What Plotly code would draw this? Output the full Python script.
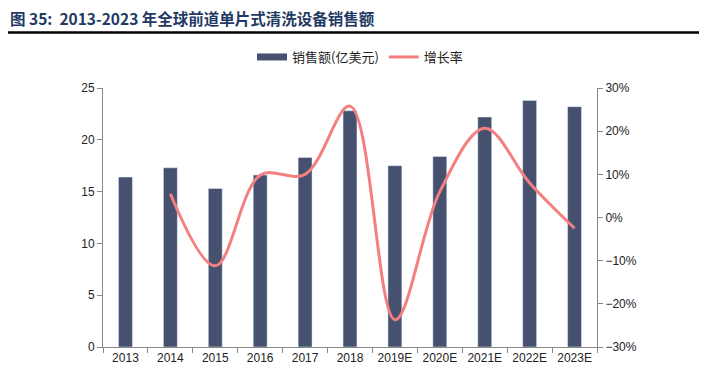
import plotly.graph_objects as go

years = ["2013", "2014", "2015", "2016", "2017", "2018", "2019E", "2020E", "2021E", "2022E", "2023E"]
sales = [16.4, 17.3, 15.3, 16.6, 18.3, 22.8, 17.5, 18.4, 22.2, 23.8, 23.2]
growth_years = years[1:]
growth = [0.055, -0.112, 0.098, 0.100, 0.258, -0.237, 0.06, 0.207, 0.08, -0.025]

OFF = 8  # page body margin
W, H = 707 - OFF, 371 - OFF
L, T = 103 - OFF, 88 - OFF
R, B = W - (597 - OFF), H - (347 - OFF)
pw, ph = W - L - R, H - T - B
bar_color = "#465170"

fig = go.Figure()
fig.add_trace(go.Bar(x=years, y=sales, name="销售额(亿美元)", marker_color=bar_color,
                     width=0.31, yaxis="y", showlegend=False))
fig.add_trace(go.Scatter(x=[None], y=[None], name="销售额(亿美元)", mode="lines",
                         line=dict(color=bar_color, width=7), yaxis="y"))
fig.add_trace(go.Scatter(x=growth_years, y=growth, name="增长率", mode="lines",
                         line=dict(color="#F47F80", width=3, shape="spline", smoothing=1.0),
                         yaxis="y2"))

axis_font = dict(family="Liberation Sans, Arial, sans-serif", size=12, color="#222")
fig.update_layout(
    width=W, height=H,
    margin=dict(l=L, r=R, t=T, b=B, autoexpand=False),
    paper_bgcolor="white", plot_bgcolor="white",
    font=axis_font,
    showlegend=True,
    legend=dict(orientation="h", x=(360 - OFF) / W, xanchor="center", xref="container",
                y=1 - (57 - OFF) / H, yanchor="middle", yref="container",
                font=dict(family="Noto Sans CJK SC, sans-serif", size=13, color="#222"),
                bgcolor="rgba(0,0,0,0)"),
    xaxis=dict(type="category", showline=True, linecolor="#888", ticks="outside", tickson="boundaries",
               ticklen=5, tickcolor="#888", showgrid=False, tickfont=axis_font,
               range=[-0.5, 10.5], automargin=False),
    yaxis=dict(range=[0, 25], dtick=5, showline=True, linecolor="#888", ticks="outside",
               ticklen=5, tickcolor="#888", showgrid=False, zeroline=False, tickfont=axis_font,
               automargin=False),
    yaxis2=dict(range=[-0.3, 0.3], dtick=0.1, tickformat=".0%", overlaying="y", side="right",
                showline=True, linecolor="#888", ticks="outside", ticklen=5, tickcolor="#888",
                showgrid=False, zeroline=False, tickfont=axis_font, automargin=False),
    title=dict(text="<b>图 35:  2013-2023 年全球前道单片式清洗设备销售额</b>",
               x=(10 - OFF) / W, xanchor="left", xref="container",
               y=1 - (19.5 - OFF) / H, yanchor="middle", yref="container",
               font=dict(family="Noto Sans CJK SC, sans-serif", size=15.5, color="#1F3A64")),
)
fig.add_shape(type="line", xref="paper", yref="paper",
              x0=(0 - L) / pw, x1=(700 - OFF - L) / pw,
              y0=(H - B - (32.5 - OFF)) / ph, y1=(H - B - (32.5 - OFF)) / ph,
              line=dict(color="black", width=2.5))

fig.write_html("out.html")
